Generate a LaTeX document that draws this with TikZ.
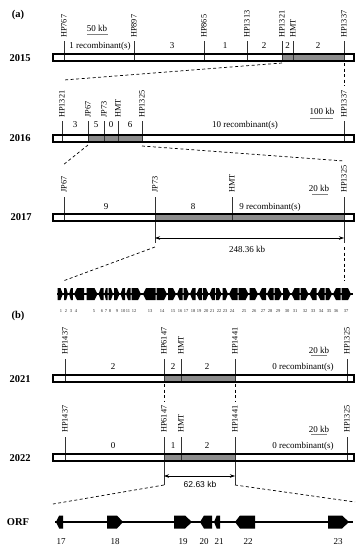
\documentclass[tikz,border=0pt]{standalone}
\usepackage{fontspec}
\setmainfont{Liberation Serif}
\newfontfamily\arialf{Liberation Sans}
\usetikzlibrary{arrows.meta}
\definecolor{shadegray}{RGB}{140,140,140}
\newcommand{\geneR}[5]{%
  \pgfmathsetmacro{\ghd}{min(#5,0.45*(#2-#1))}%
  \fill (#1,{#3-#4}) -- ({#2-\ghd},{#3-#4}) -- (#2,#3) -- ({#2-\ghd},{#3+#4}) -- (#1,{#3+#4}) -- cycle;}
\newcommand{\geneL}[5]{%
  \pgfmathsetmacro{\ghd}{min(#5,0.45*(#2-#1))}%
  \fill (#2,{#3-#4}) -- ({#1+\ghd},{#3-#4}) -- (#1,#3) -- ({#1+\ghd},{#3+#4}) -- (#2,{#3+#4}) -- cycle;}
\begin{document}
\begin{tikzpicture}[x=1pt,y=-1pt,
  yearlab/.style={font=\fontsize{10.5}{10.5}\selectfont\bfseries, inner sep=0},
  mk/.style={font=\fontsize{8.3}{8.3}\selectfont, rotate=90, anchor=west, inner sep=0},
  seg/.style={font=\fontsize{9}{9}\selectfont, inner sep=0},
  sclab/.style={font=\fontsize{9}{9}\selectfont, inner sep=0},
  tick/.style={draw=black!80, line width=0.6pt},
  barframe/.style={draw=black, line width=1.1pt},
  dashline/.style={draw=black, dash pattern=on 3pt off 2.5pt, line width=0.7pt},
  scbar/.style={draw=gray, line width=0.8pt},
  numlab/.style={font=\fontsize{4.5}{4.5}\selectfont, inner sep=0, text=black!85},
  dimarrow/.style={{Stealth[length=5pt,width=3.5pt]}-{Stealth[length=5pt,width=3.5pt]}, line width=0.6pt},
]
\useasboundingbox (0,0) rectangle (361,550);

% ---------------- (a) 2015
\node[yearlab] (pa) at (18,15) {(a)};
\node[yearlab] (y15) at (20,58) {2015};
\fill[shadegray] (282,54) rectangle (344,61);
\foreach \x/\t in {64/HP767,134/HP897,204/HP865,247/HP1313,282/HP1321,293/HMT,344/HP1337}{
  \draw[tick] (\x,41) -- (\x,61);
  \node[mk] (m15-\t) at (\x,38) {\t};}
\draw[barframe] (53,54) rectangle (354,61);
\node[seg] (s15a) at (100,46) {1 recombinant(s)};
\node[seg] (s15b) at (172,46) {3};
\node[seg] (s15c) at (225,46) {1};
\node[seg] (s15d) at (264,46) {2};
\node[seg] (s15e) at (287.5,46) {2};
\node[seg] (s15f) at (318,46) {2};
\node[sclab] (k15) at (97,28) {50 kb};
\draw[scbar] (87,34) -- (108,34);
\coordinate (d15a) at (282,63); \coordinate (d16a) at (64,80);
\coordinate (d15b) at (344,63); \coordinate (d16b) at (344,86);
\draw[dashline] (d15a) -- (d16a);
\draw[dashline] (d15b) -- (d16b);

% ---------------- 2016
\node[yearlab] (y16) at (20,138) {2016};
\fill[shadegray] (88,135) rectangle (142,142);
\foreach \x/\t in {62/HP1321,88/JP67,104/JP73,118/HMT,142/HP1325,344/HP1337}{
  \draw[tick] (\x,121) -- (\x,142);
  \node[mk] (m16-\t) at (\x,118) {\t};}
\draw[barframe] (53,135) rectangle (354,142);
\node[seg] (s16a) at (75,125) {3};
\node[seg] (s16b) at (96,125) {5};
\node[seg] (s16c) at (111,125) {0};
\node[seg] (s16d) at (130,125) {6};
\node[seg] (s16e) at (245,125) {10 recombinant(s)};
\node[sclab] (k16) at (322,111) {100 kb};
\draw[scbar] (310,118) -- (333,118);
\coordinate (d16c) at (88,145); \coordinate (d17a) at (63,165);
\coordinate (d16d) at (142,146); \coordinate (d17b) at (344,161);
\draw[dashline] (d16c) -- (d17a);
\draw[dashline] (d16d) -- (d17b);

% ---------------- 2017
\node[yearlab] (y17) at (21,217) {2017};
\fill[shadegray] (155,214) rectangle (344,221);
\foreach \x/\t in {64/JP67,155/JP73,232/HMT,344/HP1325}{
  \node[mk] (m17-\t) at (\x,193) {\t};}
\draw[tick] (64,197) -- (64,221);
\draw[tick] (232,197) -- (232,221);
\draw[tick] (155,197) -- (155,243);
\draw[tick] (344,197) -- (344,243);
\draw[barframe] (53,214) rectangle (354,221);
\node[seg] (s17a) at (106,207) {9};
\node[seg] (s17b) at (193,207) {8};
\node[seg] (s17c) at (270,207) {9 recombinant(s)};
\node[sclab] (k17) at (319,188) {20 kb};
\draw[scbar] (312,194) -- (328,194);
\coordinate (a17l) at (155,238); \coordinate (a17r) at (344,238);
\draw[dimarrow] (a17l) -- (a17r);
\node[sclab] (len17) at (247,249) {248.36 kb};
\coordinate (d17c) at (155,247); \coordinate (g17a) at (63,281);
\coordinate (d17d) at (344,247); \coordinate (g17b) at (344,281);
\draw[dashline] (d17c) -- (g17a);
\draw[dashline] (d17d) -- (g17b);

% gene array
\coordinate (bb1) at (57,294); \coordinate (bb2) at (353,294);
\draw[line width=1.5pt] (bb1) -- (bb2);
\foreach \gl/\gr/\gd in {57.5/62.9/R, 64.1/67.9/R, 69.1/72.9/L, 74.1/84/L, 86.5/97.5/R, 98.5/103.5/L, 104.5/107.5/L, 108.5/113/R, 114/119.5/R, 120.5/125/L, 126/130.5/L, 131.5/141/R, 143/155.5/L, 156.5/167/R, 168/176/R, 177/182.5/L, 183.5/189/R, 190/195.5/L, 196.5/202/L, 203/208.5/R, 209.5/215/L, 216/221.5/R, 222.5/228/R, 229/237.5/L, 238.5/248.5/R, 249.5/258/R, 259/266/L, 267/273.5/L, 274.5/282/R, 283/290.5/R, 291.5/299.5/L, 300.5/308.5/R, 309.5/316.5/L, 317.5/324.5/L, 325.5/332/R, 333/340.5/L, 341.5/351/R}{
  \if\gd R\geneR{\gl}{\gr}{294}{6}{3}\else\geneL{\gl}{\gr}{294}{6}{3}\fi}
\foreach \n/\x in {1/61,2/66,3/71,4/76,5/94,6/102,7/106,8/110,9/117,10/123,11/128,12/134,13/150,14/162,15/173,16/180,17/186,18/193,19/199,20/206,21/212,22/219,23/225,24/232,25/244,26/254,27/263,28/270,29/278,30/287,31/295,32/305,33/313,34/321,35/329,36/336,37/346}{
  \node[numlab] (num\n) at (\x,311) {\n};}

% ---------------- (b) 2021
\node[yearlab] (pb) at (18,316) {(b)};
\node[yearlab] (y21) at (20,379) {2021};
\fill[shadegray] (164,375) rectangle (235,382);
\foreach \x/\t in {65/HP1437,164/HP6147,181/HMT,235/HP1441,347/HP1325}{
  \draw[tick] (\x,359) -- (\x,382);
  \node[mk] (m21-\t) at (\x,355) {\t};}
\draw[barframe] (53,375) rectangle (354,382);
\node[seg] (s21a) at (113,367) {2};
\node[seg] (s21b) at (173,367) {2};
\node[seg] (s21c) at (207,367) {2};
\node[seg] (s21d) at (303,367) {0 recombinant(s)};
\node[sclab] (k21) at (319,350) {20 kb};
\draw[scbar] (311,355) -- (327,355);
\coordinate (d21a) at (164,384); \coordinate (d22a) at (164,402);
\coordinate (d21b) at (235,384); \coordinate (d22b) at (235,402);
\draw[dashline] (d21a) -- (d22a);
\draw[dashline] (d21b) -- (d22b);

% ---------------- 2022
\node[yearlab] (y22) at (20,458) {2022};
\fill[shadegray] (164,454) rectangle (235,461);
\foreach \x/\t in {65/HP1437,164/HP6147,181/HMT,235/HP1441,347/HP1325}{
  \node[mk] (m22-\t) at (\x,433) {\t};}
\draw[tick] (65,437) -- (65,461);
\draw[tick] (181,437) -- (181,461);
\draw[tick] (347,437) -- (347,461);
\draw[tick] (164,437) -- (164,485);
\draw[tick] (235,437) -- (235,485);
\draw[barframe] (53,454) rectangle (354,461);
\node[seg] (s22a) at (113,446) {0};
\node[seg] (s22b) at (173,446) {1};
\node[seg] (s22c) at (207,446) {2};
\node[seg] (s22d) at (303,446) {0 recombinant(s)};
\node[sclab] (k22) at (319,429) {20 kb};
\draw[scbar] (311,434) -- (327,434);
\coordinate (a22l) at (164,476); \coordinate (a22r) at (235,476);
\draw[dimarrow] (a22l) -- (a22r);
\node[font=\arialf\fontsize{8.5}{8.5}\selectfont, inner sep=0] (len22) at (200,484) {62.63 kb};
\coordinate (d22c) at (164,485); \coordinate (o22a) at (53,504);
\coordinate (d22d) at (235,485); \coordinate (o22b) at (355,502);
\draw[dashline] (d22c) -- (o22a);
\draw[dashline] (d22d) -- (o22b);

% ---------------- ORF
\node[yearlab] (orf) at (18,522) {ORF};
\coordinate (ob1) at (55,522); \coordinate (ob2) at (353,522);
\draw[line width=1.2pt] (ob1) -- (ob2);
\geneL{56}{63}{522}{6.5}{5}
\geneR{107}{123}{522}{6.5}{6}
\geneR{174}{192}{522}{6.5}{7}
\geneL{200}{212}{522}{6.5}{4}
\geneL{214}{220}{522}{6.5}{5}
\geneL{235}{255}{522}{6.5}{5}
\geneR{328}{349}{522}{6.5}{7}
\foreach \n/\x in {17/61,18/115,19/183,20/204,21/219,22/248,23/338}{
  \node[seg] (orf\n) at (\x,542) {\n};}
\end{tikzpicture}
\end{document}
